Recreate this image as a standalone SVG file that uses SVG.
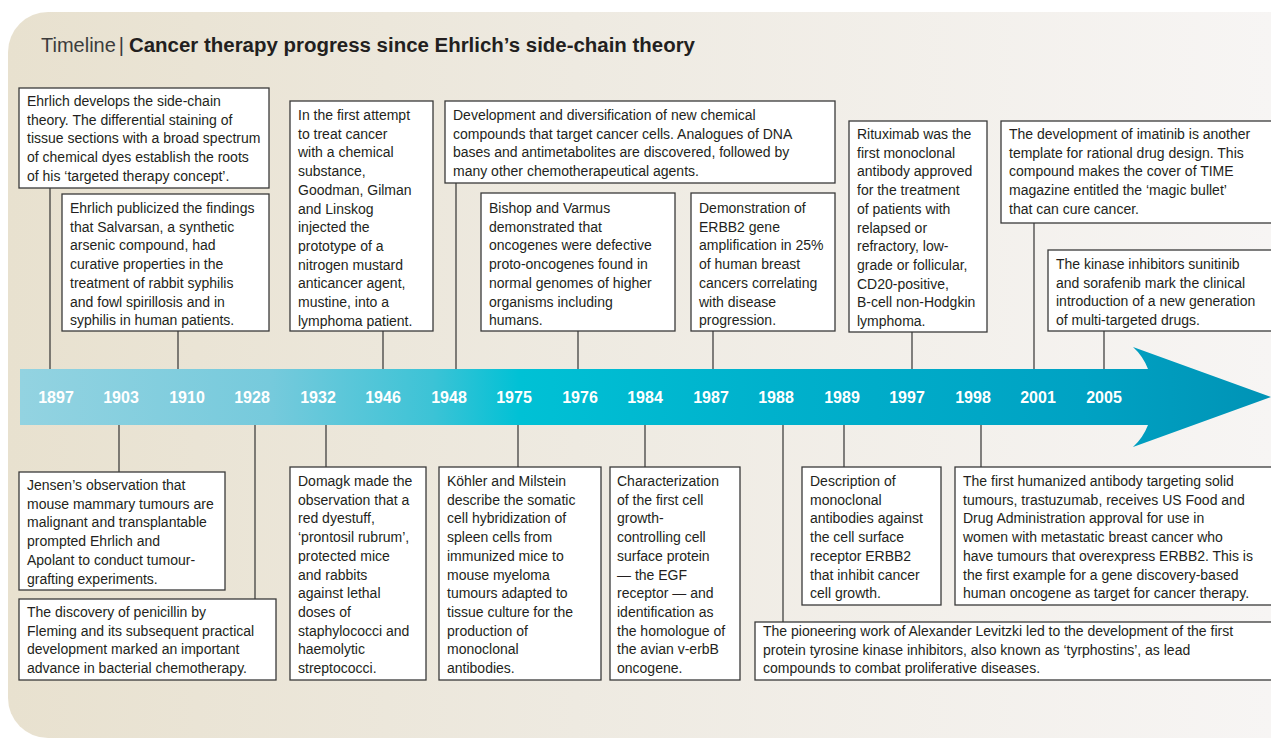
<svg xmlns="http://www.w3.org/2000/svg" width="1271" height="745" viewBox="0 0 1271 745">
  <defs>
    <linearGradient id="bgGrad" x1="0" y1="0" x2="1" y2="0">
      <stop offset="0" stop-color="#e8e1cf"/>
      <stop offset="0.45" stop-color="#eeeae1"/>
      <stop offset="1" stop-color="#f7f5f4"/>
    </linearGradient>
    <linearGradient id="arrowGrad" gradientUnits="userSpaceOnUse" x1="20" y1="0" x2="1271" y2="0">
      <stop offset="0" stop-color="#93d3e1"/>
      <stop offset="0.2" stop-color="#76cadc"/>
      <stop offset="0.33" stop-color="#3cc3d6"/>
      <stop offset="0.4" stop-color="#00c1d5"/>
      <stop offset="0.6" stop-color="#00b1cc"/>
      <stop offset="0.85" stop-color="#00a2c3"/>
      <stop offset="1" stop-color="#0093b6"/>
    </linearGradient>
  </defs>
  <style>
    .box { fill: #ffffff; stroke: #3a3a3a; stroke-width: 1.3; }
    .txt { font-family: "Liberation Sans", Arial, sans-serif; font-size: 14px; fill: #231f20; }
    .year { font-family: "Liberation Sans", Arial, sans-serif; font-size: 16px; font-weight: bold; fill: #ffffff; text-anchor: middle; }
    .conn line { stroke: #333333; stroke-width: 1.2; }
  </style>

  <!-- page background -->
  <rect width="1271" height="745" fill="#ffffff"/>
  <path d="M48,12 H1271 V738 H48 A40,40 0 0 1 8,698 V52 A40,40 0 0 1 48,12 Z" fill="url(#bgGrad)"/>

  <!-- heading -->
  <text x="41" y="52" font-family="Liberation Sans, Arial, sans-serif" font-size="20" fill="#3c3c3c">Timeline<tspan dx="3">|</tspan></text>
  <text x="129" y="52" font-family="Liberation Sans, Arial, sans-serif" font-size="20" font-weight="bold" fill="#231f20" textLength="566" lengthAdjust="spacingAndGlyphs">Cancer therapy progress since Ehrlich’s side-chain theory</text>

  <!-- timeline arrow -->
  <g id="timeline-arrow">
    <path d="M20,369 H1148 Q1143,356 1133,347 L1271,397 L1133,447 Q1143,438 1148,425 H20 Z" fill="url(#arrowGrad)"/>
    <text class="year" x="56" y="403">1897</text>
    <text class="year" x="121" y="403">1903</text>
    <text class="year" x="187" y="403">1910</text>
    <text class="year" x="252" y="403">1928</text>
    <text class="year" x="318" y="403">1932</text>
    <text class="year" x="383" y="403">1946</text>
    <text class="year" x="449" y="403">1948</text>
    <text class="year" x="514" y="403">1975</text>
    <text class="year" x="580" y="403">1976</text>
    <text class="year" x="645" y="403">1984</text>
    <text class="year" x="711" y="403">1987</text>
    <text class="year" x="776" y="403">1988</text>
    <text class="year" x="842" y="403">1989</text>
    <text class="year" x="907" y="403">1997</text>
    <text class="year" x="973" y="403">1998</text>
    <text class="year" x="1038" y="403">2001</text>
    <text class="year" x="1104" y="403">2005</text>
  </g>

  <!-- connectors between events and the timeline -->
  <g id="connectors" class="conn">
    <line x1="50" y1="188" x2="50" y2="369"/>
    <line x1="178" y1="331" x2="178" y2="369"/>
    <line x1="383" y1="331" x2="383" y2="369"/>
    <line x1="456" y1="183" x2="456" y2="369"/>
    <line x1="578" y1="331" x2="578" y2="369"/>
    <line x1="713" y1="331" x2="713" y2="369"/>
    <line x1="912" y1="332" x2="912" y2="369"/>
    <line x1="1034" y1="223" x2="1034" y2="369"/>
    <line x1="1104" y1="331" x2="1104" y2="369"/>
    <line x1="119" y1="425" x2="119" y2="472"/>
    <line x1="255" y1="425" x2="255" y2="599"/>
    <line x1="326" y1="425" x2="326" y2="467"/>
    <line x1="518" y1="425" x2="518" y2="467"/>
    <line x1="645" y1="425" x2="645" y2="467"/>
    <line x1="783" y1="425" x2="783" y2="622"/>
    <line x1="844" y1="425" x2="844" y2="467"/>
    <line x1="981" y1="425" x2="981" y2="467"/>
  </g>

  <!-- events above the timeline -->
  <g id="e1897">
    <rect class="box" x="19" y="88" width="250" height="100"/>
    <text class="txt" y="106">
      <tspan x="27">Ehrlich develops the side-chain</tspan>
      <tspan x="27" dy="18.7">theory. The differential staining of</tspan>
      <tspan x="27" dy="18.7">tissue sections with a broad spectrum</tspan>
      <tspan x="27" dy="18.7">of chemical dyes establish the roots</tspan>
      <tspan x="27" dy="18.7">of his ‘targeted therapy concept’.</tspan>
    </text>
  </g>
  <g id="e1910">
    <rect class="box" x="62" y="194" width="207" height="137"/>
    <text class="txt" y="213">
      <tspan x="70">Ehrlich publicized the findings</tspan>
      <tspan x="70" dy="18.7">that Salvarsan, a synthetic</tspan>
      <tspan x="70" dy="18.7">arsenic compound, had</tspan>
      <tspan x="70" dy="18.7">curative properties in the</tspan>
      <tspan x="70" dy="18.7">treatment of rabbit syphilis</tspan>
      <tspan x="70" dy="18.7">and  fowl spirillosis and in</tspan>
      <tspan x="70" dy="18.7">syphilis in human patients.</tspan>
    </text>
  </g>
  <g id="e1946">
    <rect class="box" x="290" y="101" width="143" height="230"/>
    <text class="txt" y="120">
      <tspan x="298">In the first attempt</tspan>
      <tspan x="298" dy="18.7">to treat cancer</tspan>
      <tspan x="298" dy="18.7">with a chemical</tspan>
      <tspan x="298" dy="18.7">substance,</tspan>
      <tspan x="298" dy="18.7">Goodman, Gilman</tspan>
      <tspan x="298" dy="18.7">and Linskog</tspan>
      <tspan x="298" dy="18.7">injected the</tspan>
      <tspan x="298" dy="18.7">prototype of a</tspan>
      <tspan x="298" dy="18.7">nitrogen mustard</tspan>
      <tspan x="298" dy="18.7">anticancer agent,</tspan>
      <tspan x="298" dy="18.7">mustine, into a</tspan>
      <tspan x="298" dy="18.7">lymphoma patient.</tspan>
    </text>
  </g>
  <g id="e1948">
    <rect class="box" x="445" y="101" width="390" height="82"/>
    <text class="txt" y="120">
      <tspan x="453">Development and diversification of new chemical</tspan>
      <tspan x="453" dy="18.7">compounds that target cancer cells. Analogues of DNA</tspan>
      <tspan x="453" dy="18.7">bases and antimetabolites are discovered, followed by</tspan>
      <tspan x="453" dy="18.7">many other chemotherapeutical agents.</tspan>
    </text>
  </g>
  <g id="e1976">
    <rect class="box" x="481" y="193" width="194" height="138"/>
    <text class="txt" y="213">
      <tspan x="489">Bishop and Varmus</tspan>
      <tspan x="489" dy="18.7">demonstrated that</tspan>
      <tspan x="489" dy="18.7">oncogenes were defective</tspan>
      <tspan x="489" dy="18.7">proto-oncogenes found in</tspan>
      <tspan x="489" dy="18.7">normal genomes of higher</tspan>
      <tspan x="489" dy="18.7">organisms including</tspan>
      <tspan x="489" dy="18.7">humans.</tspan>
    </text>
  </g>
  <g id="e1987">
    <rect class="box" x="691" y="193" width="144" height="138"/>
    <text class="txt" y="213">
      <tspan x="699">Demonstration of</tspan>
      <tspan x="699" dy="18.7">ERBB2 gene</tspan>
      <tspan x="699" dy="18.7">amplification in 25%</tspan>
      <tspan x="699" dy="18.7">of human breast</tspan>
      <tspan x="699" dy="18.7">cancers correlating</tspan>
      <tspan x="699" dy="18.7">with disease</tspan>
      <tspan x="699" dy="18.7">progression.</tspan>
    </text>
  </g>
  <g id="e1997">
    <rect class="box" x="849" y="121" width="138" height="211"/>
    <text class="txt" y="139">
      <tspan x="857">Rituximab was the</tspan>
      <tspan x="857" dy="18.7">first monoclonal</tspan>
      <tspan x="857" dy="18.7">antibody approved</tspan>
      <tspan x="857" dy="18.7">for the treatment</tspan>
      <tspan x="857" dy="18.7">of patients with</tspan>
      <tspan x="857" dy="18.7">relapsed or</tspan>
      <tspan x="857" dy="18.7">refractory, low-</tspan>
      <tspan x="857" dy="18.7">grade or follicular,</tspan>
      <tspan x="857" dy="18.7">CD20-positive,</tspan>
      <tspan x="857" dy="18.7">B-cell non-Hodgkin</tspan>
      <tspan x="857" dy="18.7">lymphoma.</tspan>
    </text>
  </g>
  <g id="e2001">
    <rect class="box" x="1001" y="121" width="275" height="102"/>
    <text class="txt" y="139">
      <tspan x="1009">The development of imatinib is another</tspan>
      <tspan x="1009" dy="18.7">template for rational drug design. This</tspan>
      <tspan x="1009" dy="18.7">compound makes the cover of TIME</tspan>
      <tspan x="1009" dy="18.7">magazine entitled the ‘magic bullet’</tspan>
      <tspan x="1009" dy="18.7">that can cure cancer.</tspan>
    </text>
  </g>
  <g id="e2005">
    <rect class="box" x="1048" y="250" width="228" height="81"/>
    <text class="txt" y="269">
      <tspan x="1056">The kinase inhibitors sunitinib</tspan>
      <tspan x="1056" dy="18.7">and sorafenib mark the clinical</tspan>
      <tspan x="1056" dy="18.7">introduction of a new generation</tspan>
      <tspan x="1056" dy="18.7">of multi-targeted drugs.</tspan>
    </text>
  </g>

  <!-- events below the timeline -->
  <g id="e1903">
    <rect class="box" x="19" y="472" width="206" height="118"/>
    <text class="txt" y="490">
      <tspan x="27">Jensen’s observation that</tspan>
      <tspan x="27" dy="18.7">mouse mammary tumours are</tspan>
      <tspan x="27" dy="18.7">malignant and transplantable</tspan>
      <tspan x="27" dy="18.7">prompted Ehrlich and</tspan>
      <tspan x="27" dy="18.7">Apolant to conduct tumour-</tspan>
      <tspan x="27" dy="18.7">grafting experiments.</tspan>
    </text>
  </g>
  <g id="e1928">
    <rect class="box" x="19" y="599" width="257" height="81"/>
    <text class="txt" y="617">
      <tspan x="27">The discovery of penicillin by</tspan>
      <tspan x="27" dy="18.7">Fleming and its subsequent practical</tspan>
      <tspan x="27" dy="18.7">development marked an important</tspan>
      <tspan x="27" dy="18.7">advance in bacterial chemotherapy.</tspan>
    </text>
  </g>
  <g id="e1932">
    <rect class="box" x="290" y="467" width="136" height="213"/>
    <text class="txt" y="486">
      <tspan x="298">Domagk made the</tspan>
      <tspan x="298" dy="18.7">observation that a</tspan>
      <tspan x="298" dy="18.7">red dyestuff,</tspan>
      <tspan x="298" dy="18.7">‘prontosil rubrum’,</tspan>
      <tspan x="298" dy="18.7">protected mice</tspan>
      <tspan x="298" dy="18.7">and rabbits</tspan>
      <tspan x="298" dy="18.7">against lethal</tspan>
      <tspan x="298" dy="18.7">doses of</tspan>
      <tspan x="298" dy="18.7">staphylococci and</tspan>
      <tspan x="298" dy="18.7">haemolytic</tspan>
      <tspan x="298" dy="18.7">streptococci.</tspan>
    </text>
  </g>
  <g id="e1975">
    <rect class="box" x="439" y="467" width="162" height="213"/>
    <text class="txt" y="486">
      <tspan x="447">Köhler and Milstein</tspan>
      <tspan x="447" dy="18.7">describe the somatic</tspan>
      <tspan x="447" dy="18.7">cell hybridization of</tspan>
      <tspan x="447" dy="18.7">spleen cells from</tspan>
      <tspan x="447" dy="18.7">immunized mice to</tspan>
      <tspan x="447" dy="18.7">mouse myeloma</tspan>
      <tspan x="447" dy="18.7">tumours adapted to</tspan>
      <tspan x="447" dy="18.7">tissue culture for the</tspan>
      <tspan x="447" dy="18.7">production of</tspan>
      <tspan x="447" dy="18.7">monoclonal</tspan>
      <tspan x="447" dy="18.7">antibodies.</tspan>
    </text>
  </g>
  <g id="e1984">
    <rect class="box" x="610" y="467" width="130" height="213"/>
    <text class="txt" y="486">
      <tspan x="617">Characterization</tspan>
      <tspan x="617" dy="18.7">of the first cell</tspan>
      <tspan x="617" dy="18.7">growth-</tspan>
      <tspan x="617" dy="18.7">controlling cell</tspan>
      <tspan x="617" dy="18.7">surface protein</tspan>
      <tspan x="617" dy="18.7">— the EGF</tspan>
      <tspan x="617" dy="18.7">receptor — and</tspan>
      <tspan x="617" dy="18.7">identification as</tspan>
      <tspan x="617" dy="18.7">the homologue of</tspan>
      <tspan x="617" dy="18.7">the avian v-erbB</tspan>
      <tspan x="617" dy="18.7">oncogene.</tspan>
    </text>
  </g>
  <g id="e1989">
    <rect class="box" x="802" y="467" width="139" height="138"/>
    <text class="txt" y="486">
      <tspan x="810">Description of</tspan>
      <tspan x="810" dy="18.7">monoclonal</tspan>
      <tspan x="810" dy="18.7">antibodies against</tspan>
      <tspan x="810" dy="18.7">the cell surface</tspan>
      <tspan x="810" dy="18.7">receptor ERBB2</tspan>
      <tspan x="810" dy="18.7">that inhibit cancer</tspan>
      <tspan x="810" dy="18.7">cell growth.</tspan>
    </text>
  </g>
  <g id="e1998">
    <rect class="box" x="955" y="467" width="321" height="138"/>
    <text class="txt" y="486">
      <tspan x="963">The first humanized antibody targeting solid</tspan>
      <tspan x="963" dy="18.7">tumours, trastuzumab, receives US Food and</tspan>
      <tspan x="963" dy="18.7">Drug Administration approval for use in</tspan>
      <tspan x="963" dy="18.7">women with metastatic breast cancer who</tspan>
      <tspan x="963" dy="18.7">have tumours that overexpress ERBB2. This is</tspan>
      <tspan x="963" dy="18.7">the first example for a gene discovery-based</tspan>
      <tspan x="963" dy="18.7">human oncogene as target for cancer therapy.</tspan>
    </text>
  </g>
  <g id="e1988">
    <rect class="box" x="755" y="622" width="521" height="58"/>
    <text class="txt" y="636">
      <tspan x="763">The pioneering work of Alexander Levitzki led to the development of the first</tspan>
      <tspan x="763" dy="18.7">protein tyrosine kinase inhibitors, also known as ‘tyrphostins’, as lead</tspan>
      <tspan x="763" dy="18.7">compounds to combat proliferative diseases.</tspan>
    </text>
  </g>
</svg>
